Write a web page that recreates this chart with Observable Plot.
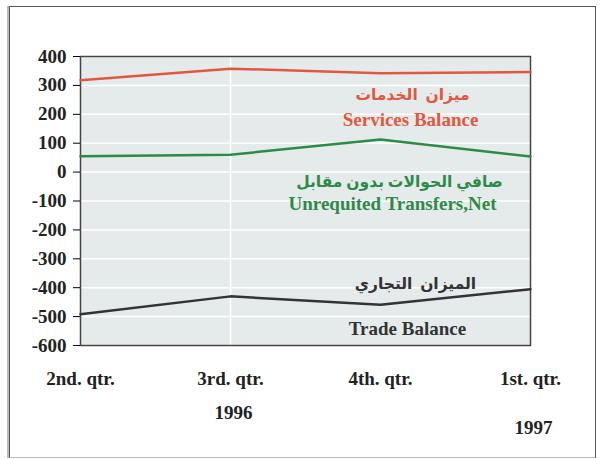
<!DOCTYPE html>
<html>
<head>
<meta charset="utf-8">
<script src="https://cdn.jsdelivr.net/npm/d3@7"></script>
<script src="https://cdn.jsdelivr.net/npm/@observablehq/plot@0.6"></script>
<style>
  html, body { margin: 0; padding: 0; background: #fff; }
  #wrap { position: relative; width: 601px; height: 459px; overflow: hidden; }
  #outer { position: absolute; left: 9px; top: 6px; width: 585px; height: 450px; border: 1.5px solid #555; border-bottom-color: #bbb; box-shadow: -2px 0 0 #bbb; }
  #chart { position: absolute; left: 0; top: 0; }
</style>
</head>
<body>
<div id="wrap"><div id="outer"></div><div id="chart"></div></div>
<script>
const quarters = ["2nd. qtr.", "3rd. qtr.", "4th. qtr.", "1st. qtr."];
const services = [318, 358, 342, 346];
const transfers = [55, 60, 113, 54];
const trade = [-492, -430, -459, -405];
const yTicks = [400, 300, 200, 100, 0, -100, -200, -300, -400, -500, -600];
const years = ["1996", "1997"];
const yearQuarters = ["3rd. qtr.", "1st. qtr."];

const redC = "#e2583e", greenC = "#2e8a48", blackC = "#333333";
const font = "'Liberation Serif', 'DejaVu Serif', 'DejaVu Sans', serif";

const toRows = (vals) => quarters.map((q, i) => ({q, v: vals[i]}));
const annoX = quarters[2];

const chart = Plot.plot({
  width: 601,
  height: 459,
  marginLeft: 80,
  marginRight: 71,
  marginTop: 56,
  marginBottom: 114,
  style: {fontFamily: font, background: "transparent"},
  x: {type: "point", domain: quarters, padding: 0, axis: null},
  y: {domain: [-600, 400], axis: null, label: null},
  marks: [
    Plot.frame({fill: "#e5ebeb", stroke: null}),
    Plot.ruleY(yTicks, {stroke: "#fff", strokeWidth: 1.5}),
    Plot.ruleX([quarters[1]], {stroke: "#fff", strokeWidth: 1.5}),
    Plot.frame({stroke: "#444", strokeWidth: 1.5}),
    Plot.axisY(yTicks, {label: null, tickSize: 7, tickPadding: 7, fontSize: 19, fontWeight: "bold", fill: "#222", tickFormat: d => String(d)}),
    Plot.line(toRows(services), {x: "q", y: "v", stroke: redC, strokeWidth: 2.5}),
    Plot.line(toRows(transfers), {x: "q", y: "v", stroke: greenC, strokeWidth: 2.5}),
    Plot.line(toRows(trade), {x: "q", y: "v", stroke: blackC, strokeWidth: 2.5}),
    Plot.text(quarters, {x: d => d, frameAnchor: "bottom", dy: 39, fontSize: 19, fontWeight: "bold", fill: "#222"}),
    Plot.text([years[0]], {x: () => yearQuarters[0], frameAnchor: "bottom", dx: 3, dy: 73, fontSize: 19, fontWeight: "bold", fill: "#222"}),
    Plot.text([years[1]], {x: () => yearQuarters[1], frameAnchor: "bottom", dx: 3, dy: 88, fontSize: 19, fontWeight: "bold", fill: "#222"}),
    // annotations
    Plot.text(["ميزان  الخدمات"], {x: () => annoX, y: () => 266, dx: 32, fontSize: 15.5, fontWeight: "bold", fill: redC}),
    Plot.text(["Services Balance"], {x: () => annoX, y: () => 180, dx: 30, fontSize: 19, fontWeight: "bold", fill: redC}),
    Plot.text(["صافي الحوالات بدون مقابل"], {x: () => annoX, y: () => -36, dx: 19, fontSize: 15.5, fontWeight: "bold", fill: greenC}),
    Plot.text(["Unrequited Transfers,Net"], {x: () => annoX, y: () => -109, dx: 12, fontSize: 19, fontWeight: "bold", fill: greenC}),
    Plot.text(["الميزان  التجاري"], {x: () => annoX, y: () => -386, dx: 35, fontSize: 15.5, fontWeight: "bold", fill: blackC}),
    Plot.text(["Trade Balance"], {x: () => annoX, y: () => -543, dx: 27, fontSize: 19, fontWeight: "bold", fill: blackC})
  ]
});
document.getElementById("chart").appendChild(chart);
</script>
</body>
</html>
